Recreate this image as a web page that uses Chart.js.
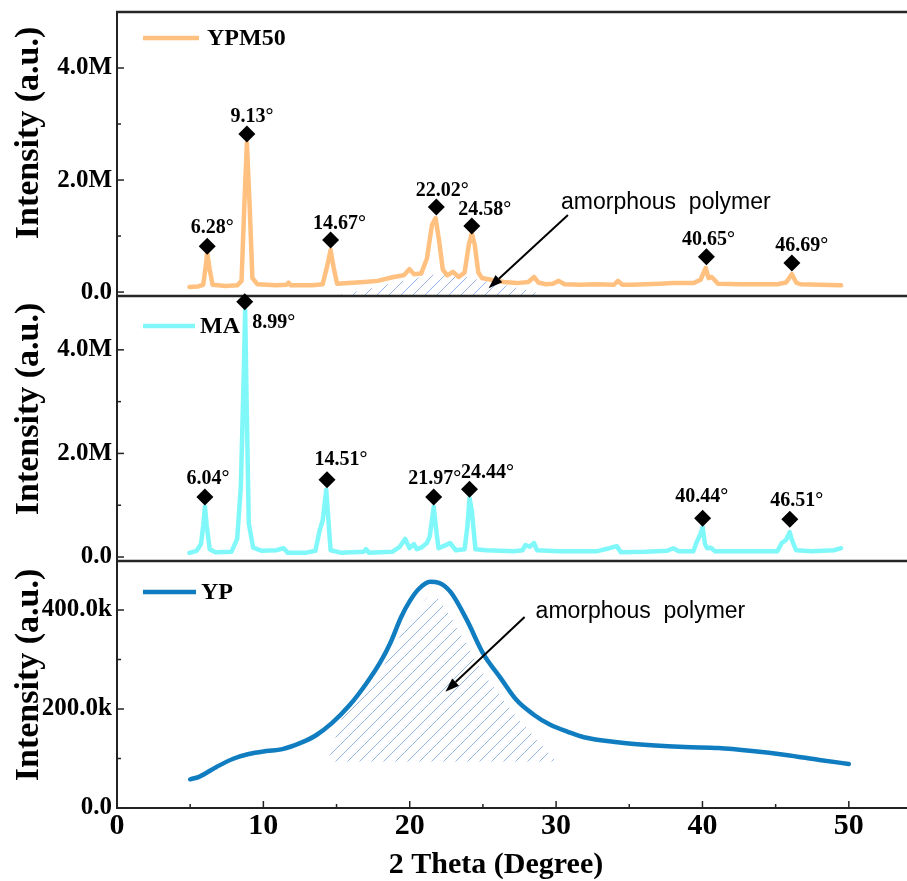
<!DOCTYPE html>
<html><head><meta charset="utf-8">
<script src="https://cdn.jsdelivr.net/npm/chart.js@4.4.1/dist/chart.umd.min.js"></script>
<style>
html,body{margin:0;padding:0;background:#fff;}
#wrap{position:relative;width:907px;height:881px;overflow:hidden;background:#fff;}
#wrap canvas{position:absolute;left:0;}
</style></head><body>
<div id="wrap">
<canvas id="c1" width="922" height="310" style="top:0px;width:922px;height:310px"></canvas>
<canvas id="c2" width="922" height="296" style="top:280px;width:922px;height:296px"></canvas>
<canvas id="c3" width="922" height="336" style="top:545px;width:922px;height:336px"></canvas>
</div>
<script>
// ---------- data ----------
const xTicks = [0, 10, 20, 30, 40, 50];
const xMinorTicks = [5, 15, 25, 35, 45];

const ypm50X = [5.0,5.6,5.95,6.1,6.23,6.4,6.6,7.5,8.3,8.6,8.8,8.97,9.15,9.35,9.7,11.0,11.7,11.85,12.0,13.5,14.2,14.5,14.75,14.95,15.2,16.0,17.1,18.0,19.1,19.8,20.2,20.5,21.0,21.4,21.75,22.0,22.25,22.5,22.8,23.2,23.6,24.0,24.3,24.5,24.7,24.95,25.2,26.0,26.7,27.6,28.4,28.8,29.1,29.6,30.1,30.5,30.9,32.0,33.0,34.3,34.6,34.9,35.6,36.5,37.5,38.4,39.8,40.3,40.65,40.85,41.05,41.25,41.5,43.0,44.5,45.6,46.2,46.6,46.9,47.2,48.5,50.0];
const ypm50Y = [90000,100000,130000,400000,700000,400000,130000,110000,120000,200000,1600000,2660000,1600000,250000,140000,120000,130000,170000,120000,120000,140000,450000,750000,450000,150000,160000,180000,200000,270000,300000,410000,320000,330000,600000,1200000,1320000,900000,400000,300000,360000,270000,350000,850000,1050000,850000,350000,250000,210000,180000,160000,180000,270000,170000,140000,150000,200000,140000,130000,140000,130000,200000,130000,130000,140000,150000,160000,160000,220000,430000,250000,270000,220000,150000,140000,140000,140000,170000,320000,170000,140000,130000,120000];

const maX = [5.0,5.5,5.8,5.95,6.07,6.2,6.4,6.8,7.9,8.3,8.55,8.75,8.85,8.95,9.1,9.4,10.0,11.0,11.5,11.8,13.0,13.7,14.0,14.2,14.45,14.6,14.75,15.5,17.0,17.2,17.4,19.0,19.5,19.9,20.2,20.5,20.7,21.0,21.4,21.6,21.87,22.05,22.2,22.7,23.0,23.4,24.0,24.2,24.34,24.5,24.75,25.5,27.4,28.0,28.2,28.5,28.8,29.0,30.5,33.1,34.0,34.5,34.8,36.5,38.0,38.4,38.8,39.8,40.0,40.3,40.44,40.6,40.75,41.0,41.3,45.6,45.9,46.2,46.45,46.6,46.9,48.0,49.5,50.0];
const maY = [80000,120000,250000,600000,970000,600000,150000,90000,100000,350000,1350000,3500000,4770000,3000000,650000,180000,120000,130000,170000,80000,80000,120000,520000,700000,1300000,700000,130000,80000,100000,150000,80000,100000,190000,350000,170000,250000,150000,180000,270000,400000,970000,500000,170000,230000,270000,130000,150000,600000,1140000,900000,150000,130000,110000,130000,230000,200000,270000,130000,110000,110000,170000,210000,90000,100000,120000,170000,110000,110000,270000,450000,580000,250000,170000,180000,110000,110000,270000,330000,480000,330000,130000,110000,130000,170000];

const ypX = [5.0,5.6,6.8,7.9,9.0,10.2,11.3,12.5,13.6,14.7,15.9,17.0,18.0,18.7,19.4,20.0,20.6,21.4,22.0,22.8,23.9,25.0,26.2,27.3,28.5,29.6,30.8,31.9,34.2,36.5,38.8,41.1,43.4,45.7,48.0,50.0];
const ypY = [58000,63000,83000,99000,109000,115000,119000,131000,147000,172000,208000,250000,295000,335000,385000,418000,442000,457000,455000,436000,380000,313000,263000,218000,188000,168000,154000,143000,133000,127000,123000,121000,115000,107000,97000,89000];

// hatched amorphous regions (upper boundary)
const ypm50HatchX = [14.9,17.1,19.4,21.6,22.8,25.1,27.4,29.9];
const ypm50HatchY = [-70000,40000,180000,300000,340000,210000,90000,-70000];
const ypHatchX = [14.4,15.5,17.0,18.2,19.3,20.3,21.2,21.8,22.8,25.0,27.3,30.0];
const ypHatchY = [94000,195000,240000,285000,345000,395000,425000,430000,386000,272000,184000,94000];
const ypHatchBase = 94000;

// peak markers
const ypm50PeakX = [6.23, 8.97, 14.75, 22.05, 24.5, 40.7, 46.6];
const ypm50PeakY = [820000, 2820000, 930000, 1520000, 1180000, 630000, 520000];
const ypm50PeakLabels = ['6.28°','9.13°','14.67°','22.02°','24.58°','40.65°','46.69°'];
const maPeakX = [6.07, 8.82, 14.5, 21.87, 24.34, 40.44, 46.46];
const maPeakY = [1160000, 4930000, 1490000, 1160000, 1310000, 750000, 730000];
const maPeakLabels = ['6.04°','8.99°','14.51°','21.97°','24.44°','40.44°','46.51°'];

// y ticks
const mTicks = [0, 2000000, 4000000];
const mTickLabels = ['0.0', '2.0M', '4.0M'];
const mMinor = [1000000, 3000000];
const kTicks = [0, 200000, 400000];
const kTickLabels = ['0.0', '200.0k', '400.0k'];
const kMinor = [100000, 300000];

// ---------- styling / layout ----------
const labelNudge = {
  '6.28°':[5,-18], '9.13°':[5,-17], '14.67°':[9,-16], '22.02°':[6,-16], '24.58°':[13,-16], '40.65°':[2,-17], '46.69°':[10,-17],
  '6.04°':[3,-18], '8.99°':[29,21], '14.51°':[14,-20], '21.97°':[1,-18], '24.44°':[18,-16], '40.44°':[-1,-21], '46.51°':[7,-18]
};
const SERIF = '"Liberation Serif", "Times New Roman", serif';
const SANS = '"Liberation Sans", Arial, sans-serif';

const hatch = (() => {
  const c = document.createElement('canvas'); c.width = 12; c.height = 12;
  const g = c.getContext('2d');
  g.strokeStyle = 'rgb(150,182,228)'; g.lineWidth = 1;
  g.beginPath(); g.moveTo(-2, 14); g.lineTo(14, -2); g.stroke();
  return g.createPattern(c, 'repeat');
})();

function pts(xs, ys) { return xs.map((x, i) => ({x: x, y: ys[i]})); }

function line(ctx, x1, y1, x2, y2) { ctx.beginPath(); ctx.moveTo(x1, y1); ctx.lineTo(x2, y2); ctx.stroke(); }

const deco = {
  id: 'deco',
  afterDraw(chart, args, o) {
    const ctx = chart.ctx, a = chart.chartArea, xs = chart.scales.x, ys = chart.scales.y;
    ctx.save();
    ctx.strokeStyle = '#262626'; ctx.lineWidth = 2.5;
    if (o.frameTop) line(ctx, a.left - 1, a.top, chart.width, a.top);
    if (o.frameBottom) line(ctx, a.left - 1, a.bottom, chart.width, a.bottom);
    // inward ticks
    ctx.lineWidth = 1.5; ctx.strokeStyle = '#222';
    o.yMajor.forEach(v => { const y = ys.getPixelForValue(v); line(ctx, a.left, y, a.left + 7, y); });
    o.yMinor.forEach(v => { const y = ys.getPixelForValue(v); line(ctx, a.left, y, a.left + 4, y); });
    if (o.xTicks) {
      xTicks.forEach(v => { const x = xs.getPixelForValue(v); line(ctx, x, a.bottom, x, a.bottom - 7); });
      xMinorTicks.forEach(v => { const x = xs.getPixelForValue(v); line(ctx, x, a.bottom, x, a.bottom - 4); });
    }
    // legend
    const ds = chart.data.datasets[0];
    const ly = a.top + o.legendDy;
    ctx.strokeStyle = ds.borderColor; ctx.lineWidth = 4.5; ctx.lineCap = 'butt';
    line(ctx, 143, ly, o.legendEnd, ly);
    ctx.fillStyle = '#000'; ctx.font = 'bold 24px ' + SERIF; ctx.textBaseline = 'middle'; ctx.textAlign = 'left';
    ctx.fillText(ds.label, o.legendText, ly + 1);
    // y title
    ctx.save();
    ctx.translate(29, a.top + o.yTitleDy); ctx.rotate(-Math.PI / 2);
    ctx.font = 'bold 34px ' + SERIF; ctx.textAlign = 'center'; ctx.textBaseline = 'middle';
    ctx.fillText('Intensity (a.u.)', 0, 0);
    ctx.restore();
    // peak labels
    const md = chart.data.datasets[1];
    if (md && o.peakLabels) {
      ctx.font = 'bold 20px ' + SERIF; ctx.textAlign = 'center'; ctx.textBaseline = 'middle'; ctx.fillStyle = '#000';
      md.data.forEach((p, i) => {
        const lab = o.peakLabels[i]; const off = labelNudge[lab] || [5, -18];
        ctx.fillText(lab, xs.getPixelForValue(p.x) + off[0], ys.getPixelForValue(p.y) + off[1]);
      });
    }
    // annotation text + arrow
    if (o.note) {
      const n = o.note;
      ctx.font = '23px ' + SANS; ctx.textAlign = 'left'; ctx.textBaseline = 'middle'; ctx.fillStyle = '#000';
      ctx.fillText(n.text, xs.getPixelForValue(n.tx), ys.getPixelForValue(n.ty));
      const x1 = xs.getPixelForValue(n.ax1), y1 = ys.getPixelForValue(n.ay1);
      const x2 = xs.getPixelForValue(n.ax2), y2 = ys.getPixelForValue(n.ay2);
      const ang = Math.atan2(y2 - y1, x2 - x1), hl = 14, hw = 5;
      const bx = x2 - hl * Math.cos(ang), by = y2 - hl * Math.sin(ang);
      ctx.strokeStyle = '#000'; ctx.lineWidth = 2;
      line(ctx, x1, y1, bx, by);
      ctx.beginPath();
      ctx.moveTo(x2, y2);
      ctx.lineTo(bx + hw * Math.sin(ang), by - hw * Math.cos(ang));
      ctx.lineTo(bx - hw * Math.sin(ang), by + hw * Math.cos(ang));
      ctx.closePath(); ctx.fill();
    }
    if (o.xTitle) {
      ctx.font = 'bold 30px ' + SERIF; ctx.textAlign = 'center'; ctx.textBaseline = 'middle'; ctx.fillStyle = '#000';
      ctx.fillText(o.xTitle, 496, a.bottom + 57);
    }
    ctx.restore();
  }
};

function makeChart(id, c) {
  const datasets = [
    { type: 'line', label: c.label, data: pts(c.xs, c.ys), borderColor: c.color, borderWidth: 4.5,
      pointRadius: 0, tension: 0, cubicInterpolationMode: c.monotone ? 'monotone' : 'default',
      borderJoinStyle: 'round', borderCapStyle: 'round', fill: false, order: 1 },
    { type: 'scatter', label: 'peaks', data: c.peakX ? pts(c.peakX, c.peakY) : [], pointStyle: 'rectRot',
      pointRadius: 8.5, backgroundColor: '#000', borderColor: '#000', borderWidth: 0, showLine: false, clip: false, order: 0 },
    { type: 'line', label: 'amorphous', data: pts(c.hx, c.hy), borderWidth: 0, borderColor: 'rgba(0,0,0,0)',
      pointRadius: 0, tension: 0, fill: c.hatchFill, backgroundColor: hatch, order: 2 }
  ];
  return new Chart(document.getElementById(id), {
    data: { datasets: datasets },
    options: {
      responsive: false, animation: false, devicePixelRatio: 1, events: [],
      layout: { padding: c.padding },
      plugins: { legend: { display: false }, tooltip: { enabled: false }, deco: c.deco },
      scales: {
        x: c.xAxis ? {
          type: 'linear', min: 0, max: 55,
          grid: { display: false, drawTicks: false },
          border: { display: true, color: '#222', width: 2 },
          afterBuildTicks: s => { s.ticks = xTicks.map(v => ({value: v})); },
          afterFit: s => { s.height = 73; },
          ticks: { autoSkip: false, maxRotation: 0, padding: 3, color: '#000',
            font: { family: SERIF, weight: 'bold', size: 30, lineHeight: 1 }, callback: v => String(v) }
        } : { type: 'linear', min: 0, max: 55, display: false },
        y: {
          type: 'linear', min: c.yMin, max: c.yMax,
          grid: { display: false, drawTicks: false },
          border: { display: true, color: '#222', width: 2 },
          afterBuildTicks: s => { s.ticks = c.yTicks.map(v => ({value: v})); },
          afterFit: s => { s.width = 117; },
          ticks: { autoSkip: false, padding: 5, color: '#000',
            font: { family: SERIF, weight: 'bold', size: 25, lineHeight: 0.4 },
            callback: v => { const i = c.yTicks.indexOf(v); return i >= 0 ? c.yTickLabels[i] : ''; } }
        }
      }
    },
    plugins: [deco]
  });
}

makeChart('c1', {
  label: 'YPM50', xs: ypm50X, ys: ypm50Y, color: 'rgb(255,192,128)',
  peakX: ypm50PeakX, peakY: ypm50PeakY,
  hx: ypm50HatchX, hy: ypm50HatchY, hatchFill: 'start',
  yMin: -70000, yMax: 5000000, yTicks: mTicks, yTickLabels: mTickLabels,
  padding: { top: 12, bottom: 14, left: 0, right: 0 }, xAxis: false,
  deco: { frameTop: true, frameBottom: true, yMajor: mTicks, yMinor: mMinor, legendDy: 26, legendEnd: 199, legendText: 207, yTitleDy: 121,
    peakLabels: ypm50PeakLabels,
    note: { text: 'amorphous  polymer', tx: 30.66, ty: 1590000, ax1: 31.14, ay1: 1375000, ax2: 25.66, ay2: 70000 } }
});

makeChart('c2', {
  label: 'MA', xs: maX, ys: maY, color: 'rgb(128,248,250)',
  peakX: maPeakX, peakY: maPeakY,
  hx: [], hy: [], hatchFill: false,
  yMin: -77000, yMax: 5020000, yTicks: mTicks, yTickLabels: mTickLabels,
  padding: { top: 17, bottom: 15, left: 0, right: 0 }, xAxis: false,
  deco: { frameTop: false, frameBottom: true, yMajor: mTicks, yMinor: mMinor, legendDy: 29, legendEnd: 195, legendText: 200, yTitleDy: 112,
    peakLabels: maPeakLabels }
});

makeChart('c3', {
  label: 'YP', xs: ypX, ys: ypY, color: 'rgb(16,125,192)', monotone: true,
  hx: ypHatchX, hy: ypHatchY, hatchFill: { value: ypHatchBase },
  yMin: 0, yMax: 497000, yTicks: kTicks, yTickLabels: kTickLabels,
  padding: { top: 17, bottom: 0, left: 0, right: 0 }, xAxis: true,
  deco: { frameTop: false, frameBottom: false, yMajor: kTicks, yMinor: kMinor, legendDy: 30, legendEnd: 196, legendText: 201, yTitleDy: 113,
    xTicks: true, xTitle: '2 Theta (Degree)',
    note: { text: 'amorphous  polymer', tx: 28.6, ty: 396000, ax1: 27.85, ay1: 386000, ax2: 22.44, ay2: 235000 } }
});
</script>
</body></html>
